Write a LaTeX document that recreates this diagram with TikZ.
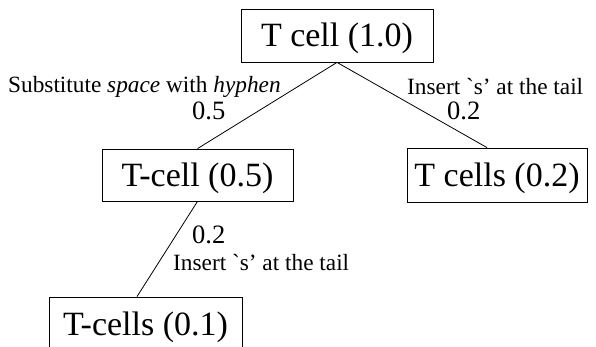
\documentclass[tikz,border=0pt]{standalone}
\usepackage{fontspec}
\setmainfont{Liberation Serif}
\newcommand{\gravemark}{\XeTeXglyph\XeTeXcharglyph"0060\relax}
\begin{document}
\begin{tikzpicture}[x=1pt,y=1pt,
  box/.style={draw, line width=0.8pt, inner sep=0pt, text height=28pt, text depth=5pt,
    font=\fontsize{34}{40}\selectfont},
  lbl/.style={anchor=base west, inner sep=0pt, font=\fontsize{23.3}{27}\selectfont},
  num/.style={anchor=base west, inner sep=0pt, font=\fontsize{26.5}{30}\selectfont},
  link/.style={line width=0.8pt}]
\useasboundingbox (0,0) rectangle (596,-347);
\node[box, minimum width=192pt, minimum height=53pt] (root) at (337,-35.5) {T cell (1.0)};
\node[box, minimum width=191pt, minimum height=52pt] (hyph) at (197.5,-175) {T-cell (0.5)};
\node[box, minimum width=180pt, minimum height=54pt] (plur) at (497,-175) {T cells (0.2)};
\node[box, minimum width=193pt, minimum height=53pt] (both) at (145.5,-323.5) {T-cells (0.1)};
\draw[link] (root.south) -- (hyph.north);
\draw[link] (root.south) -- ([xshift=-10pt]plur.north);
\draw[link] (hyph.south) -- ([xshift=-8.5pt]both.north);
\node[lbl] (l1) at (8,-93) {Substitute \emph{space} with \emph{hyphen}};
\node[num] (n1) at (192,-120) {0.5};
\node[lbl] (l2) at (407,-95) {Insert \gravemark s’ at the tail};
\node[num] (n2) at (447,-120) {0.2};
\node[num] (n3) at (192,-243) {0.2};
\node[lbl] (l3) at (173,-270) {Insert \gravemark s’ at the tail};
\end{tikzpicture}
\end{document}
